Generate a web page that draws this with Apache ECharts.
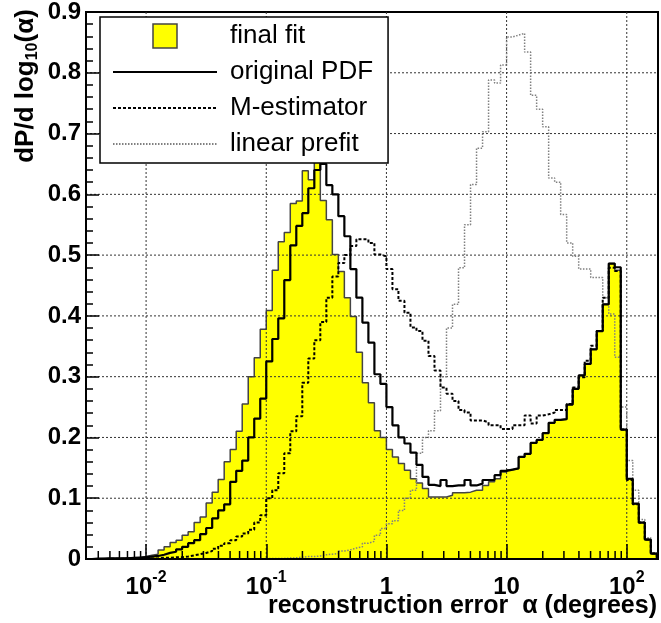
<!DOCTYPE html>
<html>
<head>
<meta charset="utf-8">
<script src="https://cdn.jsdelivr.net/npm/echarts@6/dist/echarts.min.js"></script>
<style>
html,body{margin:0;padding:0;background:#fff;}
#chart{width:661px;height:623px;}
</style>
</head>
<body>
<div id="chart"></div>
<script>
// ---- Histogram binning (log10 of alpha) ----
const binLogStart = -2.5;
const binLogWidth = 0.05;

// ---- Series values, one per bin (95 bins) ----
const finalFit = [
0.0005,0.0005,0.001,0.001,0.001,0.001,0.002,0.002,0.003,0.004,
0.006,0.008,0.015,0.02,0.027,0.031,0.039,0.045,0.06,0.069,
0.092,0.11,0.131,0.16,0.18,0.21,0.255,0.30,0.331,0.378,
0.409,0.475,0.522,0.537,0.585,0.589,0.639,0.624,0.654,0.59,
0.558,0.501,0.473,0.43,0.399,0.34,0.29,0.257,0.211,0.2,
0.18,0.168,0.157,0.146,0.132,0.125,0.116,0.102,0.102,0.102,
0.105,0.109,0.109,0.11,0.113,0.113,0.121,0.127,0.132,0.143,
0.147,0.149,0.168,0.173,0.191,0.196,0.207,0.224,0.229,0.23,
0.254,0.28,0.302,0.321,0.345,0.375,0.419,0.486,0.475,0.213,
0.132,0.091,0.06,0.032,0.009
];
const originalPDF = [
0.0,0.0005,0.0005,0.001,0.001,0.001,0.001,0.002,0.002,0.003,
0.004,0.005,0.007,0.01,0.012,0.016,0.02,0.026,0.031,0.041,
0.051,0.067,0.08,0.09,0.127,0.145,0.162,0.2,0.231,0.264,
0.325,0.362,0.396,0.459,0.516,0.548,0.569,0.61,0.64,0.65,
0.615,0.6,0.564,0.531,0.477,0.43,0.389,0.356,0.304,0.288,
0.25,0.22,0.2,0.19,0.175,0.155,0.135,0.122,0.12,0.13,
0.12,0.121,0.121,0.13,0.121,0.124,0.13,0.13,0.138,0.145,
0.147,0.149,0.168,0.173,0.191,0.196,0.207,0.224,0.229,0.23,
0.254,0.28,0.302,0.321,0.345,0.375,0.419,0.486,0.48,0.213,
0.132,0.091,0.06,0.032,0.009
];
const mEstimator = [
0,0,0,0.0005,0.0005,0.0005,0.0005,0.001,0.001,0.001,
0.001,0.001,0.002,0.002,0.003,0.003,0.004,0.006,0.008,0.01,
0.013,0.017,0.022,0.026,0.031,0.037,0.042,0.048,0.06,0.072,
0.1,0.113,0.141,0.174,0.21,0.235,0.29,0.33,0.36,0.39,
0.43,0.465,0.487,0.5,0.515,0.526,0.526,0.52,0.501,0.498,
0.477,0.444,0.425,0.405,0.381,0.375,0.359,0.334,0.31,0.282,
0.272,0.26,0.245,0.241,0.228,0.228,0.225,0.22,0.22,0.214,
0.214,0.22,0.22,0.236,0.223,0.236,0.238,0.241,0.245,0.245,
0.255,0.282,0.299,0.326,0.351,0.375,0.43,0.479,0.474,0.213,
0.13,0.09,0.06,0.032,0.009
];
const linearPrefit = [
0,0,0,0,0,0,0,0,0,0,
0,0,0,0,0,0,0,0,0,0,
0,0,0,0,0,0,0,0,0.0005,0.0005,
0.001,0.001,0.001,0.0015,0.002,0.003,0.004,0.004,0.005,0.007,
0.008,0.009,0.013,0.015,0.018,0.02,0.026,0.029,0.039,0.05,
0.058,0.063,0.08,0.1,0.113,0.174,0.2,0.211,0.244,0.3,
0.38,0.419,0.479,0.55,0.616,0.676,0.703,0.788,0.783,0.813,
0.859,0.862,0.865,0.834,0.763,0.74,0.711,0.627,0.62,0.567,
0.52,0.498,0.477,0.477,0.463,0.463,0.43,0.403,0.332,0.25,
0.162,0.113,0.065,0.035,0.01
];

// ---- Axis definitions ----
const xMin = Math.pow(10, -2.5);
const xMax = Math.pow(10, 2.26);
const xMajorTicks = [0.01, 0.1, 1, 10, 100];
const xTickBase = ['10', '10', '1', '10', '10'];
const xTickExp  = ['-2', '-1', '', '', '2'];
const xMinorTicks = [0.004,0.005,0.006,0.007,0.008,0.009,
  0.02,0.03,0.04,0.05,0.06,0.07,0.08,0.09,
  0.2,0.3,0.4,0.5,0.6,0.7,0.8,0.9,
  2,3,4,5,6,7,8,9,
  20,30,40,50,60,70,80,90];
const yGridValues = [0.1,0.2,0.3,0.4,0.5,0.6,0.7,0.8];
const yMin = 0, yMax = 0.9, yStep = 0.1;

const seriesNames = ['final fit', 'original PDF', 'M-estimator', 'linear prefit'];
const xTitle = 'reconstruction error  α (degrees)';

const FONT = "'Liberation Sans', Arial, Helvetica, sans-serif";

function toSteps(values) {
  const pts = values.map((v, k) => [Math.pow(10, binLogStart + binLogWidth * k), v]);
  const lastEdge = Math.pow(10, binLogStart + binLogWidth * values.length);
  pts.push([lastEdge, 0]);
  return pts;
}

const gridData = [];
xMajorTicks.forEach(v => gridData.push([v, 0.45, 0]));
yGridValues.forEach(v => gridData.push([1, v, 1]));

const chart = echarts.init(document.getElementById('chart'), null, {renderer: 'canvas'});

const hiddenSymbol = {opacity: 0, borderWidth: 0};

const option = {
  animation: false,
  backgroundColor: '#fff',
  grid: {left: 86, top: 10, right: 3, bottom: 64, show: true, borderColor: '#000', borderWidth: 2, backgroundColor: 'transparent'},
  legend: {
    orient: 'vertical',
    left: 100, top: 17,
    padding: [6, 15, 6, 12],
    itemWidth: 104, itemHeight: 24, itemGap: 10,
    backgroundColor: '#fff',
    borderColor: '#000', borderWidth: 1.5,
    selectedMode: false,
    textStyle: {fontFamily: FONT, fontSize: 26, color: '#000', lineHeight: 24, padding: [0, 0, 0, 8]},
    data: [
      {name: seriesNames[0], icon: 'path://M0,0L10,0L10,10L0,10Z', itemStyle: {color: '#ffff00', borderColor: '#444', borderWidth: 1.5}},
      {name: seriesNames[1], itemStyle: hiddenSymbol},
      {name: seriesNames[2], itemStyle: hiddenSymbol},
      {name: seriesNames[3], itemStyle: hiddenSymbol}
    ],
    z: 20
  },
  xAxis: {
    type: 'log', logBase: 10, min: xMin, max: xMax, z: 10,
    axisLine: {show: true, lineStyle: {color: '#000', width: 2}},
    axisTick: {show: true, inside: true, length: 15, lineStyle: {color: '#000', width: 1.5}},
    minorTick: {show: false},
    splitLine: {show: false},
    axisLabel: {
      show: true, margin: 11, showMinLabel: false, showMaxLabel: false,
      formatter: function (val) {
        for (let i = 0; i < xMajorTicks.length; i++) {
          if (Math.abs(Math.log10(val) - Math.log10(xMajorTicks[i])) < 1e-6) {
            return '{b|' + xTickBase[i] + '}' + (xTickExp[i] ? '{s|' + xTickExp[i] + '}' : '');
          }
        }
        return '';
      },
      rich: {
        b: {fontFamily: FONT, fontSize: 24, fontWeight: 'bold', color: '#000', lineHeight: 34},
        s: {fontFamily: FONT, fontSize: 16, fontWeight: 'bold', color: '#000', lineHeight: 16, verticalAlign: 'top'}
      }
    }
  },
  yAxis: {
    type: 'value', min: yMin, max: yMax, interval: yStep, z: 10,
    axisLine: {show: true, lineStyle: {color: '#000', width: 2}},
    axisTick: {show: true, inside: true, length: 13, lineStyle: {color: '#000', width: 1.5}},
    minorTick: {show: true, splitNumber: 5, length: 7, lineStyle: {color: '#000', width: 1.5}},
    splitLine: {show: false},
    axisLabel: {
      margin: 5, fontFamily: FONT, fontSize: 24, fontWeight: 'bold', color: '#000',
      formatter: function (v) { return v === 0 ? '0' : v.toFixed(1); }
    }
  },
  graphic: [
    {
      type: 'text', x: 26, y: 86, rotation: Math.PI / 2, z: 20,
      style: {
        text: '{a|dP/d log}{s|10}{a|(α)}',
        align: 'center', verticalAlign: 'middle',
        rich: {
          a: {fontFamily: FONT, fontSize: 26, fontWeight: 'bold', fill: '#000', lineHeight: 30},
          s: {fontFamily: FONT, fontSize: 16, fontWeight: 'bold', fill: '#000', lineHeight: 16, verticalAlign: 'bottom'}
        }
      }
    },
    {
      type: 'text', right: 4, top: 594, z: 20,
      style: {text: xTitle, fontFamily: FONT, fontSize: 25, fontWeight: 'bold', fill: '#000'}
    }
  ],
  series: [
    {
      name: seriesNames[0], type: 'line', step: 'end', symbol: 'none', z: 2,
      data: toSteps(finalFit),
      lineStyle: {color: '#444', width: 1.5},
      itemStyle: {color: '#ffff00'},
      areaStyle: {color: '#ffff00', opacity: 1}
    },
    {
      name: 'grid', type: 'custom', z: 3, silent: true,
      encode: {x: 0, y: 1},
      data: gridData,
      renderItem: function (params, api) {
        const cs = params.coordSys;
        const style = {stroke: '#333', lineWidth: 1, lineDash: [2, 2]};
        if (api.value(2) === 0) {
          const px = api.coord([api.value(0), 0.45])[0];
          return {type: 'line', shape: {x1: px, y1: cs.y, x2: px, y2: cs.y + cs.height}, style: style};
        }
        const py = api.coord([1, api.value(1)])[1];
        return {type: 'line', shape: {x1: cs.x, y1: py, x2: cs.x + cs.width, y2: py}, style: style};
      }
    },
    {
      name: seriesNames[3], type: 'line', step: 'end', symbol: 'none', z: 4,
      data: toSteps(linearPrefit),
      lineStyle: {color: '#808080', width: 1.5, type: [1.5, 1.5]},
      itemStyle: {color: '#808080'}
    },
    {
      name: seriesNames[2], type: 'line', step: 'end', symbol: 'none', z: 5,
      data: toSteps(mEstimator),
      lineStyle: {color: '#000', width: 2, type: [3, 2]},
      itemStyle: {color: '#000'}
    },
    {
      name: seriesNames[1], type: 'line', step: 'end', symbol: 'none', z: 6,
      data: toSteps(originalPDF),
      lineStyle: {color: '#000', width: 2.2},
      itemStyle: {color: '#000'}
    },
    {
      name: 'minor ticks', type: 'custom', z: 11, silent: true,
      encode: {x: 0, y: 1},
      data: xMinorTicks.map(v => [v, 0]),
      renderItem: function (params, api) {
        const p = api.coord([api.value(0), 0]);
        return {type: 'line', shape: {x1: p[0], y1: p[1], x2: p[0], y2: p[1] - 8}, style: {stroke: '#000', lineWidth: 1.5}};
      }
    }
  ]
};
chart.setOption(option);
</script>
</body>
</html>
